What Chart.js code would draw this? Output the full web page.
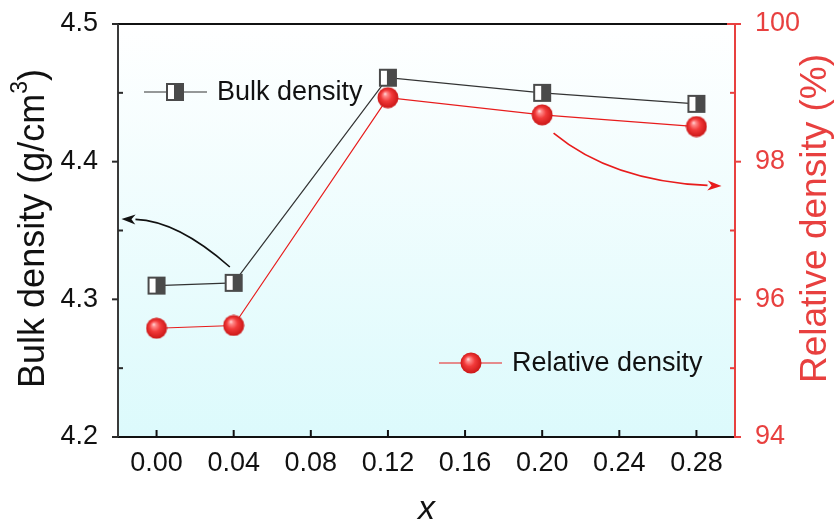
<!DOCTYPE html>
<html>
<head>
<meta charset="utf-8">
<script src="https://cdn.jsdelivr.net/npm/chart.js@4.4.1/dist/chart.umd.min.js"></script>
<style>
  html, body { margin: 0; padding: 0; background: #fff; }
  canvas { display: block; }
</style>
</head>
<body>
<canvas id="chart" width="840" height="529"></canvas>
<script>
// valeurs
const xValues = [0.00, 0.04, 0.12, 0.20, 0.28]
const bulkDensity = [4.310, 4.312, 4.461, 4.450, 4.442]
const relativeDensity = [95.58, 95.62, 98.93, 98.68, 98.51]

const xTicks = [0.00, 0.04, 0.08, 0.12, 0.16, 0.20, 0.24, 0.28]
const bulkTicks = [4.2, 4.3, 4.4, 4.5]
const bulkMinor = [4.25, 4.35, 4.45]
const relTicks = [94, 96, 98, 100]
const relMinor = [95, 97, 99]

const FONT = "'Liberation Sans', Arial, sans-serif"
const RED = "#e8403f"
const DARK = "#111111"

// marqueur carré à moitié rempli
function makeSquare() {
  const c = document.createElement("canvas")
  c.width = 20; c.height = 20
  const g = c.getContext("2d")
  g.fillStyle = "#4a4a4a"
  g.fillRect(1, 1, 18, 18)
  g.fillStyle = "#ffffff"
  g.fillRect(3, 3, 6, 14)
  return c
}

// marqueur boule rouge avec reflet
function makeBall() {
  const c = document.createElement("canvas")
  c.width = 22; c.height = 22
  const g = c.getContext("2d")
  const grad = g.createRadialGradient(8, 7, 0, 11, 11, 11)
  grad.addColorStop(0, "#ffe0e0")
  grad.addColorStop(0.18, "#ff8a8a")
  grad.addColorStop(0.5, "#f23a3a")
  grad.addColorStop(1, "#c81414")
  g.fillStyle = grad
  g.beginPath()
  g.arc(11, 11, 10.5, 0, Math.PI * 2)
  g.fill()
  return c
}

const squareImg = makeSquare()
const ballImg = makeBall()

// flèches (en coordonnées des données)
const blackArrow = { tail: [0.038, 4.3235], ctrl: [0.0109, 4.357], head: [-0.0182, 4.3584] }
const redArrow = { tail: [0.2059, 98.416], ctrl: [0.236, 97.719], head: [0.293, 97.646] }

const pts = (ys) => xValues.map((x, i) => ({ x: x, y: ys[i] }))

// largeur fixe des axes verticaux, sans marge ajoutée pour les étiquettes
const fixWidth = (w) => (s) => { s.width = w; s.paddingTop = 0; s.paddingBottom = 0 }

function drawArrow(ctx, chart, a, yScaleId, color) {
  const xs = chart.scales.x, ys = chart.scales[yScaleId]
  const P = (p) => [xs.getPixelForValue(p[0]), ys.getPixelForValue(p[1])]
  const t = P(a.tail), c = P(a.ctrl), h = P(a.head)
  const ang = Math.atan2(h[1] - c[1], h[0] - c[0])
  const len = 14, half = 5
  const bx = h[0] - len * Math.cos(ang), by = h[1] - len * Math.sin(ang)
  ctx.save()
  ctx.strokeStyle = color
  ctx.fillStyle = color
  ctx.lineWidth = 1.6
  ctx.beginPath()
  ctx.moveTo(t[0], t[1])
  ctx.quadraticCurveTo(c[0], c[1], bx, by)
  ctx.stroke()
  ctx.beginPath()
  ctx.moveTo(h[0], h[1])
  ctx.lineTo(bx + half * Math.sin(ang), by - half * Math.cos(ang))
  ctx.lineTo(bx + 4 * Math.cos(ang), by + 4 * Math.sin(ang))
  ctx.lineTo(bx - half * Math.sin(ang), by + half * Math.cos(ang))
  ctx.closePath()
  ctx.fill()
  ctx.restore()
}

const decor = {
  id: "decor",
  beforeDraw(chart) {
    const { ctx, chartArea: { left, right, top, bottom } } = chart
    const grad = ctx.createLinearGradient(0, top, 0, bottom)
    grad.addColorStop(0, "#ffffff")
    grad.addColorStop(1, "#dcfafc")
    ctx.save()
    ctx.fillStyle = grad
    ctx.fillRect(left, top, right - left, bottom - top)
    ctx.restore()
  },
  beforeDatasetsDraw(chart) {
    const { ctx, chartArea: { left, right, top, bottom }, scales } = chart
    ctx.save()
    ctx.lineWidth = 2
    const line = (x1, y1, x2, y2) => { ctx.beginPath(); ctx.moveTo(x1, y1); ctx.lineTo(x2, y2); ctx.stroke() }
    ctx.strokeStyle = DARK
    line(left - 1, top, right, top)
    line(left - 1, bottom, right, bottom)
    ctx.strokeStyle = "#3a3a3a"
    line(left, top, left, bottom)
    ctx.strokeStyle = RED
    line(right, top - 1, right, bottom + 1)
    line(right - 8, top, right, top)

    // graduations
    ctx.strokeStyle = "#2a2a2a"
    bulkTicks.forEach(v => { const y = scales.y.getPixelForValue(v); line(left - 6, y, left, y) })
    bulkMinor.forEach(v => { const y = scales.y.getPixelForValue(v); line(left, y, left + 5, y) })
    ctx.strokeStyle = DARK
    xTicks.forEach(v => { const x = scales.x.getPixelForValue(v); line(x, bottom, x, bottom - 7) })
    ctx.strokeStyle = RED
    relTicks.forEach(v => { const y = scales.y2.getPixelForValue(v); line(right, y, right + 6, y) })
    relMinor.forEach(v => { const y = scales.y2.getPixelForValue(v); line(right - 5, y, right, y) })
    ctx.restore()
  },
  afterDraw(chart) {
    const { ctx, chartArea: { left, right, top, bottom } } = chart
    drawArrow(ctx, chart, blackArrow, "y", "#111111")
    drawArrow(ctx, chart, redArrow, "y2", "#e81c1c")

    // légendes dans le graphe
    ctx.save()
    ctx.font = "27px " + FONT
    ctx.textBaseline = "middle"
    ctx.fillStyle = DARK
    ctx.lineWidth = 1.2

    let y = top + 68
    ctx.strokeStyle = "#333333"
    ctx.beginPath(); ctx.moveTo(left + 26, y); ctx.lineTo(left + 89, y); ctx.stroke()
    ctx.drawImage(squareImg, left + 57 - 10, y - 10)
    ctx.fillText("Bulk density", left + 99, y + 1)

    y = top + 339
    ctx.strokeStyle = "#e81c1c"
    ctx.beginPath(); ctx.moveTo(left + 321, y); ctx.lineTo(left + 384, y); ctx.stroke()
    ctx.drawImage(ballImg, left + 353 - 11, y - 11)
    ctx.fillText("Relative density", left + 394, y + 1)
    ctx.restore()

    // titres des axes verticaux (lecture de bas en haut)
    const cy = (top + bottom) / 2
    ctx.save()
    ctx.translate(34, cy - 2)
    ctx.rotate(-Math.PI / 2)
    ctx.textBaseline = "middle"
    ctx.fillStyle = DARK
    const big = "36px " + FONT, small = "23px " + FONT
    ctx.font = big
    const s1 = "Bulk density (g/cm", s3 = ")"
    const w1 = ctx.measureText(s1).width, w3 = ctx.measureText(s3).width
    ctx.font = small
    const w2 = ctx.measureText("3").width
    let x0 = -(w1 + w2 + w3) / 2
    ctx.font = big
    ctx.fillText(s1, x0, 0)
    ctx.font = small
    ctx.fillText("3", x0 + w1, -13)
    ctx.font = big
    ctx.fillText(s3, x0 + w1 + w2, 0)
    ctx.restore()

    ctx.save()
    ctx.translate(816, cy - 12)
    ctx.rotate(-Math.PI / 2)
    ctx.textBaseline = "middle"
    ctx.textAlign = "center"
    ctx.fillStyle = RED
    ctx.font = "37px " + FONT
    ctx.fillText("Relative density (%)", 0, 0)
    ctx.restore()
  }
}

new Chart(document.getElementById("chart"), {
  type: "line",
  data: {
    datasets: [
      {
        label: "Bulk density",
        data: pts(bulkDensity),
        yAxisID: "y",
        borderColor: "#333333",
        borderWidth: 1.2,
        pointStyle: squareImg,
        pointRadius: 10,
        fill: false,
        tension: 0,
      },
      {
        label: "Relative density",
        data: pts(relativeDensity),
        yAxisID: "y2",
        borderColor: "#e81c1c",
        borderWidth: 1.2,
        pointStyle: ballImg,
        pointRadius: 11,
        fill: false,
        tension: 0,
      },
    ],
  },
  options: {
    responsive: false,
    devicePixelRatio: 1,
    animation: false,
    events: [],
    layout: { padding: { top: 24, left: 0, right: 0, bottom: 0 } },
    plugins: {
      legend: { display: false },
      tooltip: { enabled: false },
    },
    scales: {
      x: {
        type: "linear",
        min: -0.02,
        max: 0.30,
        afterBuildTicks: (s) => { s.ticks = xTicks.map(v => ({ value: v })) },
        afterFit: (s) => { s.height = 92; s.paddingLeft = 0; s.paddingRight = 0 },
        grid: { display: false },
        border: { display: false },
        ticks: {
          padding: 2,
          color: DARK,
          font: { family: FONT, size: 27 },
          callback: (v) => Number(v).toFixed(2),
        },
        title: {
          display: true,
          text: "x",
          color: DARK,
          font: { family: FONT, size: 34, style: "italic", lineHeight: 1 },
          padding: { top: 0, bottom: 2 },
        },
      },
      y: {
        type: "linear",
        position: "left",
        min: 4.2,
        max: 4.5,
        afterBuildTicks: (s) => { s.ticks = bulkTicks.map(v => ({ value: v })) },
        afterFit: fixWidth(118),
        grid: { display: false },
        border: { display: false },
        ticks: {
          padding: 12,
          color: DARK,
          font: { family: FONT, size: 27 },
          callback: (v) => Number(v).toFixed(1),
        },
      },
      y2: {
        type: "linear",
        position: "right",
        min: 94,
        max: 100,
        afterBuildTicks: (s) => { s.ticks = relTicks.map(v => ({ value: v })) },
        afterFit: fixWidth(105),
        grid: { display: false },
        border: { display: false },
        ticks: {
          padding: 12,
          color: RED,
          font: { family: FONT, size: 27 },
          callback: (v) => String(v),
        },
      },
    },
  },
  plugins: [decor],
})
</script>
</body>
</html>
